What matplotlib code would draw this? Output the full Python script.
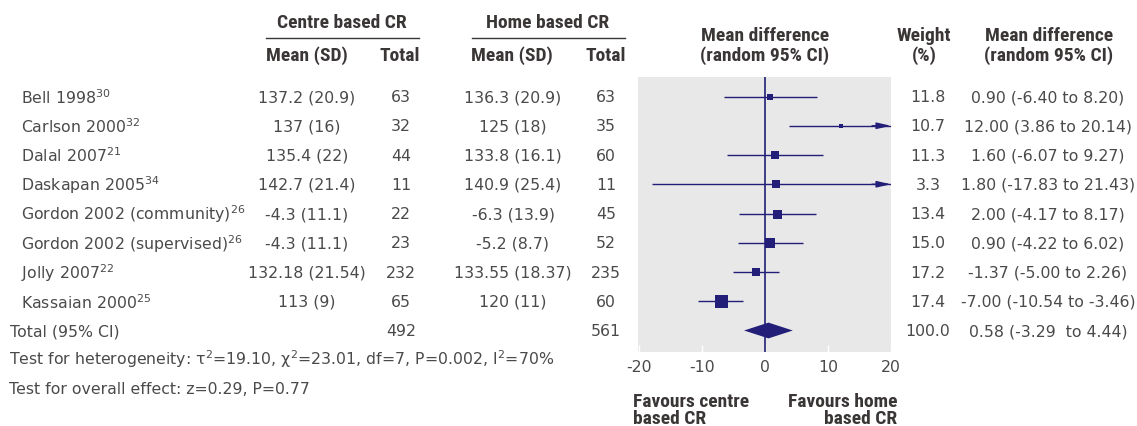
import numpy as np
import matplotlib
matplotlib.use("Agg")
from matplotlib import pyplot as plt
from matplotlib import transforms
from matplotlib import font_manager

#----------------------------------------------------------------------
# data
studies = ["Bell 1998$^{30}$", "Carlson 2000$^{32}$", "Dalal 2007$^{21}$",
           "Daskapan 2005$^{34}$", "Gordon 2002 (community)$^{26}$",
           "Gordon 2002 (supervised)$^{26}$", "Jolly 2007$^{22}$",
           "Kassaian 2000$^{25}$"]
centre_msd = ["137.2 (20.9)", "137 (16)", "135.4 (22)", "142.7 (21.4)",
              "-4.3 (11.1)", "-4.3 (11.1)", "132.18 (21.54)", "113 (9)"]
centre_n = [63, 32, 44, 11, 22, 23, 232, 65]
home_msd = ["136.3 (20.9)", "125 (18)", "133.8 (16.1)", "140.9 (25.4)",
            "-6.3 (13.9)", "-5.2 (8.7)", "133.55 (18.37)", "120 (11)"]
home_n = [63, 35, 60, 11, 45, 52, 235, 60]
weight = [11.8, 10.7, 11.3, 3.3, 13.4, 15.0, 17.2, 17.4]
md = [0.90, 12.00, 1.60, 1.80, 2.00, 0.90, -1.37, -7.00]
ci_lo = [-6.40, 3.86, -6.07, -17.83, -4.17, -4.22, -5.00, -10.54]
ci_hi = [8.20, 20.14, 9.27, 21.43, 8.17, 6.02, 2.26, -3.46]
md_text = ["0.90 (-6.40 to 8.20)", "12.00 (3.86 to 20.14)",
           "1.60 (-6.07 to 9.27)", "1.80 (-17.83 to 21.43)",
           "2.00 (-4.17 to 8.17)", "0.90 (-4.22 to 6.02)",
           "-1.37 (-5.00 to 2.26)", "-7.00 (-10.54 to -3.46)"]
total_centre_n = 492
total_home_n = 561
total_weight = "100.0"
total_md = 0.58
total_lo = -3.29
total_hi = 4.44
total_text = "0.58 (-3.29  to 4.44)"
xticks = [-20, -10, 0, 10, 20]
het_text = ("Test for heterogeneity: \u03c4$^2$=19.10, $\\chi^2$=23.01, "
            "df=7, P=0.002, I$^2$=70%")
eff_text = "Test for overall effect: z=0.29, P=0.77"

# box size in pixels (style)
box_px = [6.5, 4, 8, 8, 9, 10.5, 8, 13]

#----------------------------------------------------------------------
NAVY = "#231f78"
PANEL = "#e8e8e8"
TXT = "#4a4a4a"
HEAD = "#3a3636"
W, H = 1137, 427

# 本文は DejaVu Sans、見出しは細めの太字を探す
FS = 11.3
installed = set(f.name for f in font_manager.fontManager.ttflist)
for name, size in [('Roboto Condensed', 14), ('Liberation Sans Narrow', 14)]:
    if name in installed:
        BFONT, BFS = name, size
        break
else:
    BFONT, BFS = 'DejaVu Sans', 10.5

plt.rcParams['font.family'] = ['DejaVu Sans']
plt.rcParams['mathtext.default'] = 'regular'
plt.rcParams['font.size'] = FS

fig = plt.figure(figsize=(W / 100, H / 100), dpi=100)
# panel in pixels: x 638..891, y 78..353
ax = fig.add_axes([638 / W, (H - 353) / H, (891 - 638) / W, (353 - 78) / H])
ax.set_facecolor(PANEL)
for s in ax.spines.values():
    s.set_visible(False)
ax.set_xlim(-20.1, 20)
ax.set_ylim(8.735, -0.667)
ax.set_yticks([])
ax.set_xticks(xticks)
ax.set_xticklabels([str(t) for t in xticks], color=TXT, fontsize=FS)
ax.tick_params(axis='x', direction='in', length=5, width=1, color='white', pad=5)

# zero line
ax.axvline(0, color=NAVY, lw=1.2, zorder=2)

rows = np.arange(len(studies))
for i in rows:
    lo = max(ci_lo[i], -20)
    hi = min(ci_hi[i], 20)
    ax.plot([lo, hi], [i, i], color=NAVY, lw=1, zorder=3, solid_capstyle='butt')
    if ci_hi[i] > 20:
        # 範囲外は矢印
        ax.annotate('', xy=(20, i), xytext=(hi - 3, i),
                    arrowprops=dict(arrowstyle='-|>,head_length=0.75,head_width=0.17',
                                    color=NAVY, lw=1, shrinkA=0, shrinkB=0),
                    zorder=3)
    ax.plot(md[i], i, marker='s', ms=box_px[i] * 0.72, color=NAVY,
            mec=NAVY, mew=0, zorder=4)

# total diamond
trow = len(studies)
dh = 0.27
ax.fill([total_lo, total_md, total_hi, total_md],
        [trow, trow - dh, trow, trow + dh], color=NAVY, zorder=4, lw=0)

#----------------------------------------------------------------------
# table text: x in pixels, y in row units
xtr = transforms.Affine2D().scale(1.0 / W, 1.0) + fig.transFigure
T = transforms.blended_transform_factory(xtr, ax.transData)

def put(x, y, s, ha='center', color=TXT):
    fig.text(x, y, s, transform=T, ha=ha, va='center',
             color=color, fontsize=FS, clip_on=False)

def head(x, y, s, ha='center'):
    fig.text(x, y, s, transform=T, ha=ha, va='center', family=BFONT,
             fontweight='heavy', color=HEAD, fontsize=BFS, clip_on=False)

# pixel y -> row units
def ry(py):
    return (py - 97.5) / 29.25

head(342, ry(23), "Centre based CR")
head(548, ry(23), "Home based CR")
head(307, ry(56), "Mean (SD)")
head(400, ry(56), "Total")
head(512, ry(56), "Mean (SD)")
head(606, ry(56), "Total")
head(765, ry(36), "Mean difference")
head(765, ry(56), "(random 95% CI)")
head(924, ry(36), "Weight")
head(924, ry(56), "(%)")
head(1049, ry(36), "Mean difference")
head(1049, ry(56), "(random 95% CI)")

for x0, x1 in [(266, 419), (472, 625)]:
    fig.add_artist(plt.Line2D([x0, x1], [ry(39), ry(39)], transform=T,
                              color=HEAD, lw=1))

for i in rows:
    put(21, i, studies[i], ha='left')
    put(307, i, centre_msd[i])
    put(401, i, str(centre_n[i]))
    put(513, i, home_msd[i])
    put(606, i, str(home_n[i]))
    put(928, i, "%.1f" % weight[i])
    put(1048, i, md_text[i])

put(10, trow, "Total (95% CI)", ha='left')
put(401, trow, str(total_centre_n))
put(606, trow, str(total_home_n))
put(928, trow, total_weight)
put(1048, trow, total_text)

put(9, ry(359), het_text, ha='left')
put(9, ry(389), eff_text, ha='left')

head(633, ry(402), "Favours centre", ha='left')
head(633, ry(419), "based CR", ha='left')
head(897, ry(402), "Favours home", ha='right')
head(897, ry(419), "based CR", ha='right')

fig.savefig("out.png", dpi=100, facecolor='white')
